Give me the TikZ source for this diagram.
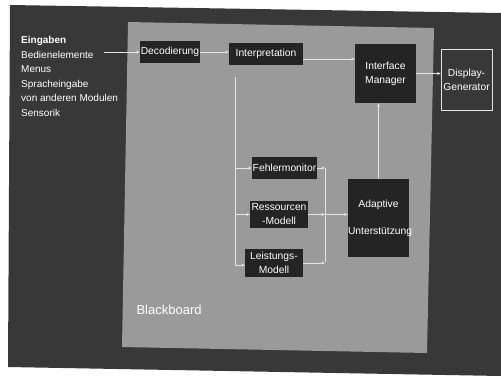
\documentclass[tikz,border=0pt]{standalone}
\usepackage{fontspec}
\setmainfont{Liberation Sans}
\usetikzlibrary{arrows.meta}
\definecolor{slidegray}{RGB}{56,56,56}
\definecolor{boardgray}{RGB}{154,154,154}
\definecolor{boxgray}{RGB}{36,36,36}
\definecolor{linegray}{RGB}{228,228,228}
\tikzset{
  blk/.style={fill=boxgray,text=white,align=center,inner sep=1pt,font=\fontsize{10.3}{14}\selectfont},
  link/.style={draw=linegray,line width=0.6pt,-{Stealth[length=3.5pt,width=3pt]}},
  bus/.style={draw=linegray,line width=0.6pt}
}
\begin{document}
\begin{tikzpicture}[x=1pt,y=-1pt]
\useasboundingbox (0,0) rectangle (501,376);
% Background
    \fill[white] (0,0) rectangle (501,376);
    \fill[slidegray] (10,5) -- (501,13) -- (501,376) -- (8,367) -- cycle;
    \fill[boardgray] (128,22) -- (434,28) -- (427,353) -- (122,347) -- cycle;
    \node[text=white,font=\fontsize{13}{14}\selectfont,anchor=west] (board) at (133,310) {Blackboard};
% Inputs
    \node[text=white,align=left,anchor=north west,inner sep=0pt,font=\fontsize{10}{14.6}\selectfont] (inputs) at (21,36) {\textbf{Eingaben}\\Bedienelemente\\Menus\\Spracheingabe\\von anderen Modulen\\Sensorik};
    \coordinate (inpt) at (104,52);
% Modules
    \node[blk,minimum width=58pt,minimum height=22pt] (dec) at (170,52) {Decodierung};
    \node[blk,minimum width=74pt,minimum height=22pt] (interp) at (266,54) {Interpretation};
    \node[blk,minimum width=61pt,minimum height=59pt] (im) at (385.5,73.5) {Interface\\Manager};
    \node[blk,fill=slidegray,draw=linegray,line width=0.5pt,minimum width=51pt,minimum height=61pt] (dg) at (466.5,79.5) {Display-\\Generator};
    \node[blk,minimum width=65pt,minimum height=22pt] (fehl) at (284.5,168) {Fehlermonitor};
    \node[blk,minimum width=58pt,minimum height=27pt] (res) at (279,214.5) {Ressourcen\\-Modell};
    \node[blk,minimum width=58pt,minimum height=28pt] (leist) at (274,263) {Leistungs-\\Modell};
    \node[blk,inner xsep=0pt,text width=61pt,minimum height=78pt] (ada) at (378.5,218) {Adaptive\\[13pt]Unterst\"utzung};
% Connectors
    \draw[link] (inpt) -- (inpt -| dec.west);
    \draw[link] (dec.east) -- (dec.east -| interp.west);
    \draw[link] ([yshift=-5pt]interp.east) -- ([yshift=-5pt]interp.east -| im.west);
    \draw[link] (im.east) -- (im.east -| dg.west);
    \draw[link] (ada.north) -- (ada.north |- im.south);
% Left bus
    \coordinate (lbtop) at (235,77);
    \coordinate (lbbot) at (235,265);
    \draw[bus] (lbtop) -- (lbbot);
    \draw[link] (lbtop |- fehl.west) -- (fehl.west);
    \draw[link] (lbtop |- res.west) -- (res.west);
    \draw[link] (lbbot) -- (lbbot -| leist.west);
% Right bus
    \coordinate (rbtop) at (325,168);
    \coordinate (rbbot) at (325,262);
    \draw[bus] (rbtop) -- (rbbot);
    \draw[link] (fehl.east) -- (rbtop);
    \draw[link] (res.east) -- (res.east -| rbtop);
    \draw[link] (leist.east) -- (leist.east -| rbtop);
    \draw[link] (res.east -| rbtop) -- (res.east -| ada.west);
\end{tikzpicture}
\end{document}
